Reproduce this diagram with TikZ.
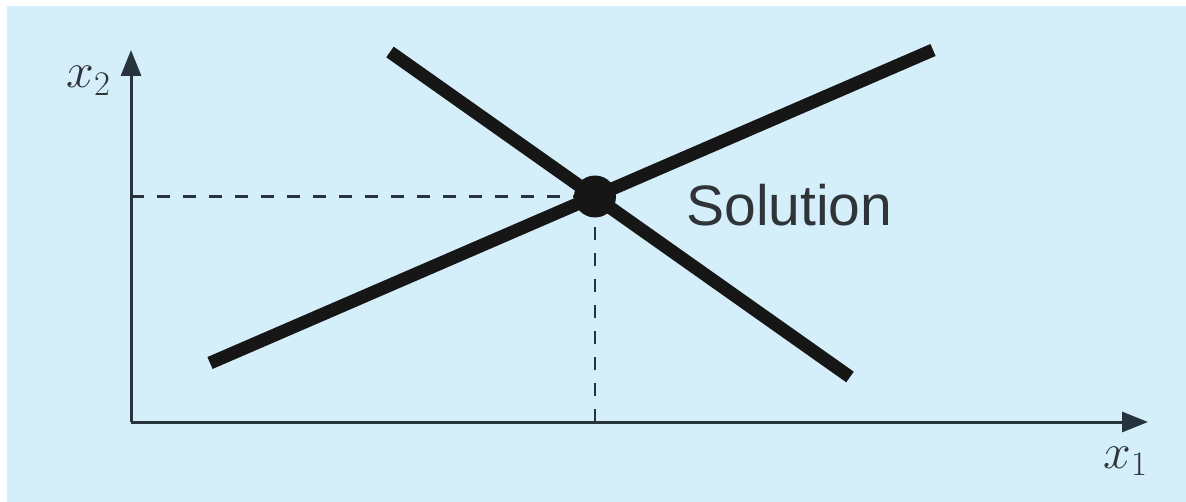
\documentclass[tikz,border=0pt]{standalone}
\usepackage{fontspec}
\newfontfamily\solfont{Liberation Sans}
\usetikzlibrary{arrows.meta}
\definecolor{bgblue}{HTML}{D4EEFA}
\definecolor{axiscol}{HTML}{27343D}
\definecolor{linecol}{HTML}{161616}
\definecolor{textcol}{HTML}{2E3438}
\begin{document}
\begin{tikzpicture}[x=0.5pt,y=-0.5pt,
  axis/.style={draw=axiscol,line width=1.5pt,-{Triangle[length=13pt,width=10pt]}},
  guide/.style={draw=axiscol,line width=1.2pt,dash pattern=on 6.5pt off 6.5pt},
  eqline/.style={draw=linecol,line width=6.5pt},
  lbl/.style={inner sep=0pt,text=textcol,font=\fontsize{27}{30}\selectfont}]
\useasboundingbox (0,0) rectangle (1186,502);
\fill[white] (-10,-10) rectangle (1200,520);
\fill[bgblue] (7,6) rectangle (1200,520);
\coordinate (O) at (131,422);
\coordinate (ytip) at (131,50);
\coordinate (xtip) at (1148,422);
\coordinate (S) at (595,196.5);
\coordinate (Sx) at (131,196.5);
\coordinate (Sy) at (595,422);
\coordinate (a1) at (210,363);
\coordinate (a2) at (933,50);
\coordinate (b1) at (390,52);
\coordinate (b2) at (850,377);
\draw[guide] (Sx) -- (S);
\draw[guide] (Sy) -- (S);
\draw[axis] (O) -- (ytip);
\draw[axis] (O) -- (xtip);
\draw[eqline] (a1) -- (a2);
\draw[eqline] (b1) -- (b2);
\fill[linecol] (S) circle (10.5pt);
\node[lbl,anchor=base west] (x2lab) at (66,88) {$x_2$};
\node[lbl,anchor=base west] (x1lab) at (1103,468) {$x_1$};
\node[lbl,anchor=base west,font=\solfont\fontsize{28.5}{32}\selectfont] (sol) at (686,225) {Solution};
\end{tikzpicture}
\end{document}
